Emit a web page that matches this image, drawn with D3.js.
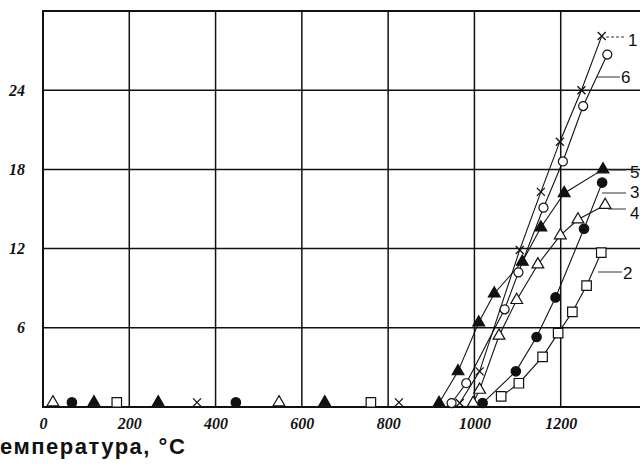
<!DOCTYPE html>
<html>
<head>
<meta charset="utf-8">
<script src="https://cdnjs.cloudflare.com/ajax/libs/d3/7.8.5/d3.min.js"></script>
<style>
  body { margin: 0; background: #fff; }
  svg { display: block; }
</style>
</head>
<body>
<svg></svg>
<script>
// tick labels
var xTicks = [0, 200, 400, 600, 800, 1000, 1200];
var yTicks = [6, 12, 18, 24];
var xTitle = "емпература, °С";

// curve labels (series names)
var seriesNames = ["1", "2", "3", "4", "5", "6"];

// [temperature, value] points along each curve
var s1 = [[966, 0.3], [1012, 2.7], [1105, 11.9], [1154, 16.3], [1198, 20.1], [1248, 24.0], [1295, 28.1]];
var s2 = [[1062, 0.8], [1103, 1.8], [1158, 3.8], [1194, 5.6], [1227, 7.2], [1260, 9.2], [1294, 11.7]];
var s3 = [[1019, 0.3], [1096, 2.7], [1144, 5.3], [1188, 8.3], [1254, 13.5], [1296, 17.0]];
var s4 = [[997, 0.3], [1012, 1.3], [1057, 5.4], [1098, 8.1], [1147, 10.8], [1199, 13.0], [1240, 14.2], [1303, 15.3]];
var s5 = [[918, 0.3], [962, 2.7], [1010, 6.4], [1046, 8.6], [1111, 11.0], [1154, 13.6], [1208, 16.2], [1298, 18.0]];
var s6 = [[947, 0.3], [981, 1.8], [1070, 7.4], [1102, 10.2], [1160, 15.1], [1205, 18.6], [1252, 22.8], [1308, 26.7]];

// single markers lying on the axis at low temperatures
var low1 = [357, 825];
var low2 = [171, 760];
var low3 = [67, 447];
var low4 = [23, 547];
var low5 = [118, 267, 653];
var low6 = [];
var lowValue = 0.35;

window.onload = function () {
    var width = 640;
    var height = 472;
    var svg = d3.select("svg")
        .attr("width", width)
        .attr("height", height);

    var x = d3.scaleLinear().domain([0, 1400]).range([43, 647]);
    var y = d3.scaleLinear().domain([0, 30]).range([407, 11]);

    // grid
    svg.append("g").selectAll("line")
        .data(xTicks.slice(1)).enter()
        .append("line")
        .attr("x1", function (d) { return x(d); })
        .attr("x2", function (d) { return x(d); })
        .attr("y1", y(30)).attr("y2", y(0))
        .attr("stroke", "#111").attr("stroke-width", 1.5);
    svg.append("g").selectAll("line")
        .data(yTicks).enter()
        .append("line")
        .attr("x1", x(0)).attr("x2", x(1400))
        .attr("y1", function (d) { return y(d); })
        .attr("y2", function (d) { return y(d); })
        .attr("stroke", "#111").attr("stroke-width", 1.5);

    // frame
    svg.append("rect")
        .attr("x", x(0)).attr("y", y(30))
        .attr("width", x(1400) - x(0)).attr("height", y(0) - y(30))
        .attr("fill", "none").attr("stroke", "#111").attr("stroke-width", 2);

    // axes (labels only)
    var xAxis = svg.append("g")
        .attr("transform", "translate(0," + (y(0) + 7) + ")")
        .call(d3.axisBottom(x).tickValues(xTicks).tickFormat(d3.format("d")).tickSize(0).tickPadding(4));
    xAxis.select(".domain").remove();
    var yAxis = svg.append("g")
        .attr("transform", "translate(" + (x(0) - 16) + ",0)")
        .call(d3.axisLeft(y).tickValues(yTicks).tickFormat(d3.format("d")).tickSize(0).tickPadding(2));
    yAxis.select(".domain").remove();
    svg.selectAll(".tick text")
        .style("font-family", "'Liberation Serif', 'DejaVu Serif', serif")
        .style("font-style", "italic")
        .style("font-weight", "bold")
        .style("font-size", "16px")
        .style("fill", "#111");

    svg.append("text")
        .attr("x", 0).attr("y", 454)
        .style("font-family", "'Liberation Sans', Arial, sans-serif")
        .style("font-weight", "bold")
        .style("font-size", "22px")
        .style("letter-spacing", "1.5px")
        .style("fill", "#111")
        .text(xTitle);

    var series = [
        { name: seriesNames[0], pts: s1, low: low1, shape: "x" },
        { name: seriesNames[1], pts: s2, low: low2, shape: "square" },
        { name: seriesNames[2], pts: s3, low: low3, shape: "dot" },
        { name: seriesNames[3], pts: s4, low: low4, shape: "tri" },
        { name: seriesNames[4], pts: s5, low: low5, shape: "trifill" },
        { name: seriesNames[5], pts: s6, low: low6, shape: "circle" }
    ];

    var line = d3.line()
        .x(function (d) { return x(d[0]); })
        .y(function (d) { return y(d[1]); });

    series.forEach(function (s) {
        svg.append("path")
            .attr("d", line(s.pts))
            .attr("fill", "none")
            .attr("stroke", "#111")
            .attr("stroke-width", 1.1);
    });

    function drawMarker(g, shape, cx, cy) {
        if (shape == "x") {
            var r = 4;
            g.append("path")
                .attr("d", "M" + (cx - r) + "," + (cy - r) + "L" + (cx + r) + "," + (cy + r) +
                    "M" + (cx - r) + "," + (cy + r) + "L" + (cx + r) + "," + (cy - r))
                .attr("stroke", "#111").attr("stroke-width", 1.3);
            return;
        }
        var type = d3.symbolCircle, size = 64, fill = "#fff";
        if (shape == "square") { type = d3.symbolSquare; size = 90; }
        if (shape == "dot") { fill = "#111"; size = 70; }
        if (shape == "tri") { type = d3.symbolTriangle; size = 60; }
        if (shape == "trifill") { type = d3.symbolTriangle; size = 60; fill = "#111"; }
        g.append("path")
            .attr("d", d3.symbol().type(type).size(size)())
            .attr("transform", "translate(" + cx + "," + cy + ")")
            .attr("fill", fill)
            .attr("stroke", "#111")
            .attr("stroke-width", 1.2);
    }

    var markers = svg.append("g");
    series.forEach(function (s) {
        s.pts.forEach(function (p) { drawMarker(markers, s.shape, x(p[0]), y(p[1])); });
        s.low.forEach(function (t) { drawMarker(markers, s.shape, x(t), y(lowValue)); });
    });

    // curve labels with leader lines
    var labelPos = [
        { i: 0, lx1: 606, lx2: 626, ly: 37, tx: 628, ty: 46, dash: "3,2" },
        { i: 1, lx1: 598, lx2: 622, ly: 272, tx: 623, ty: 279 },
        { i: 2, lx1: 602, lx2: 626, ly: 193, tx: 630, ty: 198 },
        { i: 3, lx1: 608, lx2: 626, ly: 209, tx: 630, ty: 219 },
        { i: 4, lx1: 610, lx2: 626, ly: 170, tx: 630, ty: 178 },
        { i: 5, lx1: 597, lx2: 620, ly: 77, tx: 621, ty: 83 }
    ];
    labelPos.forEach(function (l) {
        svg.append("line")
            .attr("x1", l.lx1).attr("x2", l.lx2)
            .attr("y1", l.ly).attr("y2", l.ly)
            .attr("stroke", "#333").attr("stroke-width", 1)
            .attr("stroke-dasharray", l.dash || null);
        svg.append("text")
            .attr("x", l.tx).attr("y", l.ty)
            .style("font-family", "'Liberation Sans', Arial, sans-serif")
            .style("font-size", "17px")
            .style("fill", "#111")
            .text(series[l.i].name);
    });
};
</script>
</body>
</html>
